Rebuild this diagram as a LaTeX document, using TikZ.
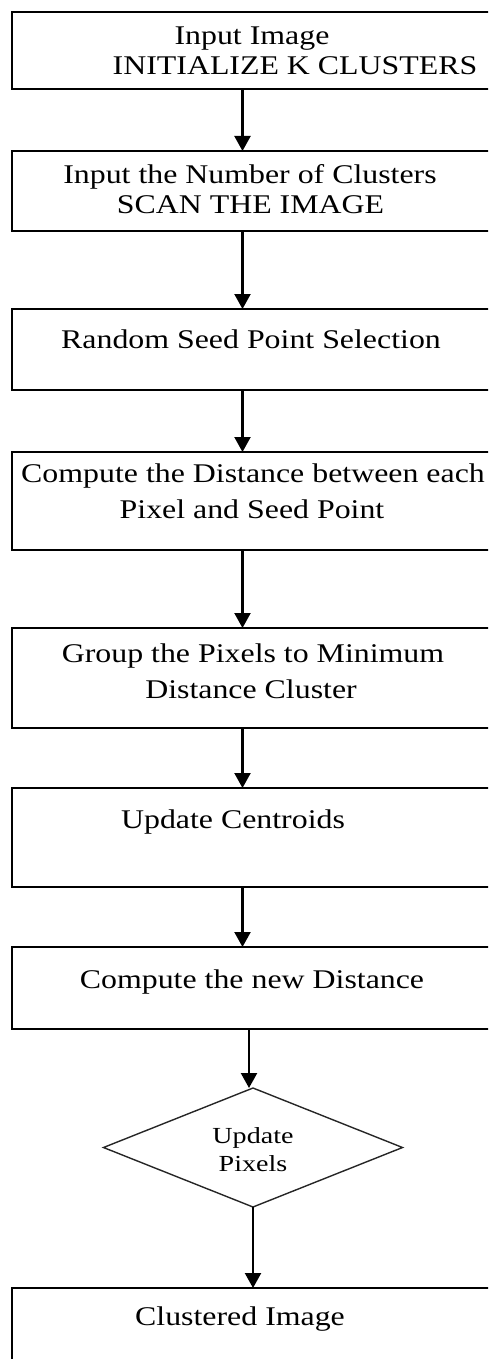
\documentclass[tikz,border=0pt]{standalone}
\usepackage{fontspec}
\setmainfont{Liberation Serif}
\usepackage{graphicx}
\usetikzlibrary{arrows.meta,shapes.geometric}
\newcommand{\sxt}[1]{\scalebox{1.18}[1]{#1}}
\newcommand{\sxd}[1]{\scalebox{1.22}[1]{#1}}
\begin{document}
\begin{tikzpicture}[x=1pt,y=-1pt,
 box/.style={draw=black,line width=2.2pt,rectangle,anchor=north west,inner sep=0pt,outer sep=0pt,minimum width=500pt},
 txt/.style={anchor=base,inner sep=0pt,font=\fontsize{27}{30}\selectfont},
 dtxt/.style={anchor=base,inner sep=0pt,font=\fontsize{23}{25}\selectfont},
 arr/.style={line width=2.2pt,-{Triangle[width=16pt,length=15pt]}},
 dec/.style={draw=black!85,line width=1.4pt,diamond,inner sep=0pt,outer sep=0pt,minimum width=299pt,minimum height=119pt}]
\useasboundingbox (0,0) rectangle (488,1359);
\clip (0,0) rectangle (488,1359);
% boxes
\node[box,minimum height=77pt] (b1) at (12,12) {};
\node[box,minimum height=80pt] (b2) at (12,151) {};
\node[box,minimum height=81pt] (b3) at (12,309) {};
\node[box,minimum height=98pt] (b4) at (12,452) {};
\node[box,minimum height=100pt] (b5) at (12,628) {};
\node[box,minimum height=99pt] (b6) at (12,788) {};
\node[box,minimum height=82pt] (b7) at (12,947) {};
\node[dec] (dec) at (253,1147.5) {};
\node[box,minimum height=100pt] (b8) at (12,1288) {};
% texts
\node[txt] (t1a) at (252,45) {\sxt{Input Image}};
\node[txt] (t1b) at (295,75) {\sxt{INITIALIZE K CLUSTERS}};
\node[txt] (t2a) at (250,183) {\sxt{Input the Number of Clusters}};
\node[txt] (t2b) at (250.5,213) {\sxt{SCAN THE IMAGE}};
\node[txt] (t3) at (251,348) {\sxt{Random Seed Point Selection}};
\node[txt] (t4a) at (253,482) {\sxt{Compute the Distance between each}};
\node[txt] (t4b) at (252,518) {\sxt{Pixel and Seed Point}};
\node[txt] (t5a) at (253,662) {\sxt{Group the Pixels to Minimum}};
\node[txt] (t5b) at (251,698) {\sxt{Distance Cluster}};
\node[txt] (t6) at (233,828) {\sxt{Update Centroids}};
\node[txt] (t7) at (252,988) {\sxt{Compute the new Distance}};
\node[dtxt] (tda) at (253,1143) {\sxd{Update}};
\node[dtxt] (tdb) at (253,1171) {\sxd{Pixels}};
\node[txt] (t8) at (240,1325) {\sxt{Clustered Image}};
% connectors
\coordinate (cx) at (242.5,0);
\coordinate (cx7) at (249,0);
\draw[arr] (b1.south -| cx) -- (b2.north -| cx);
\draw[arr] (b2.south -| cx) -- (b3.north -| cx);
\draw[arr] (b3.south -| cx) -- (b4.north -| cx);
\draw[arr] (b4.south -| cx) -- (b5.north -| cx);
\draw[arr] (b5.south -| cx) -- (b6.north -| cx);
\draw[arr] (b6.south -| cx) -- (b7.north -| cx);
\draw[arr] (b7.south -| cx7) -- (dec.north -| cx7);
\draw[arr] (dec.south) -- (b8.north -| dec.south);
\end{tikzpicture}
\end{document}
